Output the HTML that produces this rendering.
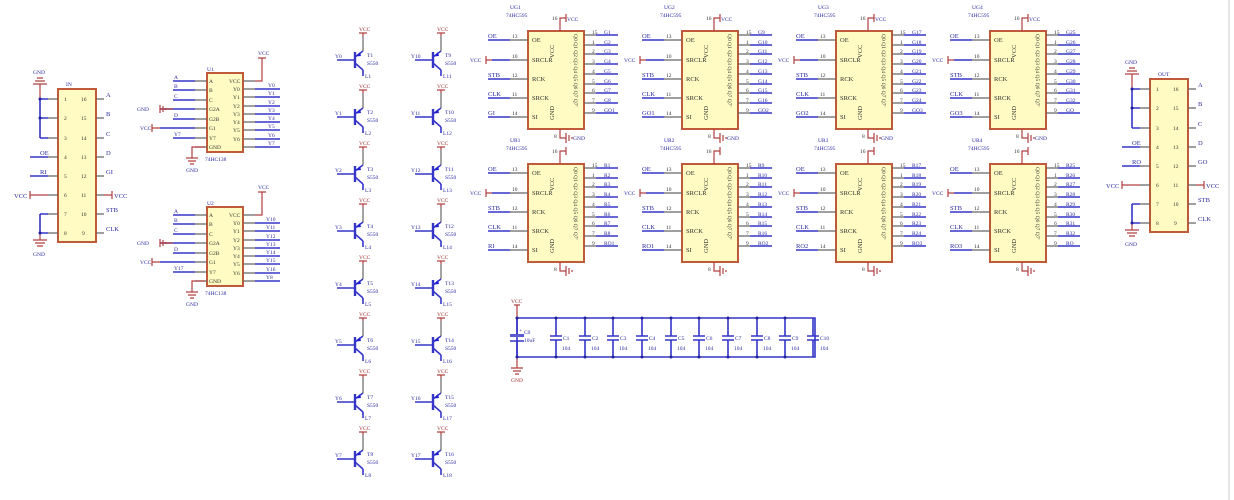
<!DOCTYPE html>
<html><head><meta charset="utf-8"><style>
html,body{margin:0;padding:0;background:#fff;}
svg{display:block;}
text{font-family:"Liberation Serif",serif;font-size:6.5px;fill:#2a2aa0;}
.s{font-size:5.5px;}
.k{fill:#333;}
.r{fill:#a03030;}
.w{stroke:#3535c8;stroke-width:1.6;fill:none;}
.p{stroke:#666;stroke-width:1.2;fill:none;}
.pr{stroke:#b04040;stroke-width:1.2;fill:none;}
.bx{fill:#fffbc2;stroke:#c05a3a;stroke-width:2;}
</style></head><body>
<svg width="1234" height="500" viewBox="0 0 1234 500" xmlns="http://www.w3.org/2000/svg">
<defs>
<g id="chip">
<rect class="bx" x="48" y="31" width="56" height="98"/>
<path class="p" d="M30 40H48M30 60H48M30 79H48M30 98H48M30 117H48"/>
<path class="w" d="M8 40H30M12 60H30M8 79H30M8 98H30M8 117H30"/>
<path class="pr" d="M6 56V64M6 60H12"/>
<path class="p" d="M104 35H116M104 45H116M104 54H116M104 64H116M104 74H116M104 84H116M104 93H116M104 103H116M104 113H116"/>
<path class="w" d="M116 35H138M116 45H138M116 54H138M116 64H138M116 74H138M116 84H138M116 93H138M116 103H138M116 113H138"/>
<path class="pr" d="M80 31V18H86M86 14V22"/>
<path class="pr" d="M80 129V138H86M86 133V143M89 135V141M92 137V139"/>
</g>
<g id="tr">
<path class="w" d="M-18 0H0"/>
<path stroke="#3535c8" stroke-width="2.4" d="M0 -8V8"/>
<path class="w" d="M0 -3L8 -9M0 3L8 10"/>
<path fill="#2020d0" d="M1 -3.5L5 -8L6 -4Z"/>
<path class="p" d="M8 -9V-24"/>
<path class="pr" d="M8 -24V-27M4 -27H12"/>
<path class="w" d="M8 10V16"/>
</g>
<g id="conn">
<rect class="bx" x="58" y="89" width="38" height="153"/>
<path class="p" d="M48 99H58M48 118H58M48 138H58M48 157H58M48 176H58M48 195H58M48 214H58M48 233H58M96 99H104M96 118H104M96 138H104M96 157H104M96 176H104M96 195H104M96 214H104M96 233H104"/>
<path class="w" d="M40 99H48M40 118H48M40 138H48M40 99V138M40 214H48M40 233H48M40 214V233M30 157H48M30 176H48"/>
<path class="pr" d="M30 191V199M30 195H48M104 195H112M112 191V199M40 99V84M33 84H47M35 81H45M37 78H43M40 233V240M33 240H47M35 243H45M37 246H43"/>
<circle cx="40" cy="99" r="1.5" fill="#2020a0"/><circle cx="40" cy="118" r="1.5" fill="#2020a0"/><circle cx="40" cy="233" r="1.5" fill="#2020a0"/>
</g>
<g id="c138">
<rect class="bx" x="207" y="73" width="36" height="79"/>
<path class="p" d="M195 81H207M195 90H207M195 100H207M195 109H207M195 119H207M195 128H207M195 138H207M195 147H207M243 81H255M243 89H255M243 97H255M243 106H255M243 114H255M243 122H255M243 130H255M243 139H255M243 147H255"/>
<path class="w" d="M173 81H195M173 90H195M173 100H195M160 109H195M173 119H195M160 128H195M173 138H195M255 89H280M255 97H280M255 106H280M255 114H280M255 122H280M255 130H280M255 139H280M255 147H280"/>
<path class="pr" d="M255 81H262V58M258 58H266M160 105V113M163 106V112M166 108V110M160 109H173M152 124V132M152 128H160M205 147H192V158M186 158H198M188 161H196M190 164H194"/>
</g>
</defs>

<path stroke="#ccc" stroke-width="1" d="M1229 0V500"/>

<use href="#conn"/>
<text x="66" y="86" class="s">IN</text>
<text x="33" y="74" class="s">GND</text><text x="33" y="256" class="s">GND</text>
<text x="64" y="101" class="k s">1</text><text x="64" y="120" class="k s">2</text><text x="64" y="140" class="k s">3</text><text x="64" y="159" class="k s">4</text><text x="64" y="178" class="k s">5</text><text x="64" y="197" class="k s">6</text><text x="64" y="216" class="k s">7</text><text x="64" y="235" class="k s">8</text>
<text x="81" y="101" class="k s">16</text><text x="81" y="120" class="k s">15</text><text x="81" y="140" class="k s">14</text><text x="81" y="159" class="k s">13</text><text x="81" y="178" class="k s">12</text><text x="81" y="197" class="k s">11</text><text x="81" y="216" class="k s">10</text><text x="82" y="235" class="k s">9</text>
<text x="106" y="97">A</text><text x="106" y="116">B</text><text x="106" y="136">C</text><text x="106" y="155">D</text><text x="106" y="174">GI</text><text x="114" y="198">VCC</text><text x="106" y="212">STB</text><text x="106" y="231">CLK</text>
<text x="40" y="155">OE</text><text x="40" y="174">RI</text><text x="14" y="198">VCC</text>

<g transform="translate(1092,-10)">
<use href="#conn"/>
<text x="66" y="86" class="s">OUT</text>
<text x="33" y="74" class="s">GND</text><text x="33" y="256" class="s">GND</text>
<text x="64" y="101" class="k s">1</text><text x="64" y="120" class="k s">2</text><text x="64" y="140" class="k s">3</text><text x="64" y="159" class="k s">4</text><text x="64" y="178" class="k s">5</text><text x="64" y="197" class="k s">6</text><text x="64" y="216" class="k s">7</text><text x="64" y="235" class="k s">8</text>
<text x="81" y="101" class="k s">16</text><text x="81" y="120" class="k s">15</text><text x="81" y="140" class="k s">14</text><text x="81" y="159" class="k s">13</text><text x="81" y="178" class="k s">12</text><text x="81" y="197" class="k s">11</text><text x="81" y="216" class="k s">10</text><text x="82" y="235" class="k s">9</text>
<text x="106" y="97">A</text><text x="106" y="116">B</text><text x="106" y="136">C</text><text x="106" y="155">D</text><text x="106" y="174">GO</text><text x="114" y="198">VCC</text><text x="106" y="212">STB</text><text x="106" y="231">CLK</text>
<text x="40" y="155">OE</text><text x="40" y="174">RO</text><text x="14" y="198">VCC</text>
</g>

<use href="#c138"/>
<text x="207" y="71" class="s">U1</text><text x="205" y="161" class="s">74HC138</text>
<text x="258" y="55" class="s">VCC</text><text x="186" y="172" class="s">GND</text>
<text x="137" y="111" class="s">GND</text><text x="140" y="130" class="s">VCC</text>
<text x="174" y="79" class="s">A</text><text x="174" y="88" class="s">B</text><text x="174" y="98" class="s">C</text><text x="174" y="117" class="s">D</text><text x="174" y="136" class="s">Y7</text>
<text x="209" y="83" class="k s">A</text><text x="209" y="92" class="k s">B</text><text x="209" y="102" class="k s">C</text><text x="209" y="111" class="k s">G2A</text><text x="209" y="121" class="k s">G2B</text><text x="209" y="130" class="k s">G1</text><text x="209" y="140" class="k s">Y7</text><text x="209" y="149" class="k s">GND</text>
<text x="229" y="83" class="k s">VCC</text><text x="233" y="91" class="k s">Y0</text><text x="233" y="99" class="k s">Y1</text><text x="233" y="108" class="k s">Y2</text><text x="233" y="116" class="k s">Y3</text><text x="233" y="124" class="k s">Y4</text><text x="233" y="132" class="k s">Y5</text><text x="233" y="141" class="k s">Y6</text>
<text x="268" y="87" class="s">Y0</text><text x="268" y="95" class="s">Y1</text><text x="268" y="104" class="s">Y2</text><text x="268" y="112" class="s">Y3</text><text x="268" y="120" class="s">Y4</text><text x="268" y="128" class="s">Y5</text><text x="268" y="137" class="s">Y6</text><text x="268" y="145" class="s">Y7</text>

<g transform="translate(0,134)">
<use href="#c138"/>
<text x="207" y="71" class="s">U2</text><text x="205" y="161" class="s">74HC138</text>
<text x="258" y="55" class="s">VCC</text><text x="186" y="172" class="s">GND</text>
<text x="137" y="111" class="s">GND</text><text x="140" y="130" class="s">VCC</text>
<text x="174" y="79" class="s">A</text><text x="174" y="88" class="s">B</text><text x="174" y="98" class="s">C</text><text x="174" y="117" class="s">D</text><text x="174" y="136" class="s">Y17</text>
<text x="209" y="83" class="k s">A</text><text x="209" y="92" class="k s">B</text><text x="209" y="102" class="k s">C</text><text x="209" y="111" class="k s">G2A</text><text x="209" y="121" class="k s">G2B</text><text x="209" y="130" class="k s">G1</text><text x="209" y="140" class="k s">Y7</text><text x="209" y="149" class="k s">GND</text>
<text x="229" y="83" class="k s">VCC</text><text x="233" y="91" class="k s">Y0</text><text x="233" y="99" class="k s">Y1</text><text x="233" y="108" class="k s">Y2</text><text x="233" y="116" class="k s">Y3</text><text x="233" y="124" class="k s">Y4</text><text x="233" y="132" class="k s">Y5</text><text x="233" y="141" class="k s">Y6</text>
<text x="266" y="87" class="s">Y10</text><text x="266" y="95" class="s">Y11</text><text x="266" y="104" class="s">Y12</text><text x="266" y="112" class="s">Y13</text><text x="266" y="120" class="s">Y14</text><text x="266" y="128" class="s">Y15</text><text x="266" y="137" class="s">Y16</text><text x="266" y="145" class="s">Y8</text>
</g>

<g transform="translate(355,60)"><use href="#tr"/><text x="-20" y="-2" class="s">Y0</text><text x="4" y="-29" class="s r">VCC</text><text x="12" y="-3" class="s">T1</text><text x="12" y="5" class="s">S550</text><text x="10" y="18" class="s">L1</text></g>
<g transform="translate(355,117)"><use href="#tr"/><text x="-20" y="-2" class="s">Y1</text><text x="4" y="-29" class="s r">VCC</text><text x="12" y="-3" class="s">T2</text><text x="12" y="5" class="s">S550</text><text x="10" y="18" class="s">L2</text></g>
<g transform="translate(355,174)"><use href="#tr"/><text x="-20" y="-2" class="s">Y2</text><text x="4" y="-29" class="s r">VCC</text><text x="12" y="-3" class="s">T3</text><text x="12" y="5" class="s">S550</text><text x="10" y="18" class="s">L3</text></g>
<g transform="translate(355,231)"><use href="#tr"/><text x="-20" y="-2" class="s">Y3</text><text x="4" y="-29" class="s r">VCC</text><text x="12" y="-3" class="s">T4</text><text x="12" y="5" class="s">S550</text><text x="10" y="18" class="s">L4</text></g>
<g transform="translate(355,288)"><use href="#tr"/><text x="-20" y="-2" class="s">Y4</text><text x="4" y="-29" class="s r">VCC</text><text x="12" y="-3" class="s">T5</text><text x="12" y="5" class="s">S550</text><text x="10" y="18" class="s">L5</text></g>
<g transform="translate(355,345)"><use href="#tr"/><text x="-20" y="-2" class="s">Y5</text><text x="4" y="-29" class="s r">VCC</text><text x="12" y="-3" class="s">T6</text><text x="12" y="5" class="s">S550</text><text x="10" y="18" class="s">L6</text></g>
<g transform="translate(355,402)"><use href="#tr"/><text x="-20" y="-2" class="s">Y6</text><text x="4" y="-29" class="s r">VCC</text><text x="12" y="-3" class="s">T7</text><text x="12" y="5" class="s">S550</text><text x="10" y="18" class="s">L7</text></g>
<g transform="translate(355,459)"><use href="#tr"/><text x="-20" y="-2" class="s">Y7</text><text x="4" y="-29" class="s r">VCC</text><text x="12" y="-3" class="s">T8</text><text x="12" y="5" class="s">S550</text><text x="10" y="18" class="s">L8</text></g>
<g transform="translate(433,60)"><use href="#tr"/><text x="-22" y="-2" class="s">Y10</text><text x="4" y="-29" class="s r">VCC</text><text x="12" y="-3" class="s">T9</text><text x="12" y="5" class="s">S550</text><text x="10" y="18" class="s">L11</text></g>
<g transform="translate(433,117)"><use href="#tr"/><text x="-22" y="-2" class="s">Y11</text><text x="4" y="-29" class="s r">VCC</text><text x="12" y="-3" class="s">T10</text><text x="12" y="5" class="s">S550</text><text x="10" y="18" class="s">L12</text></g>
<g transform="translate(433,174)"><use href="#tr"/><text x="-22" y="-2" class="s">Y12</text><text x="4" y="-29" class="s r">VCC</text><text x="12" y="-3" class="s">T11</text><text x="12" y="5" class="s">S550</text><text x="10" y="18" class="s">L13</text></g>
<g transform="translate(433,231)"><use href="#tr"/><text x="-22" y="-2" class="s">Y13</text><text x="4" y="-29" class="s r">VCC</text><text x="12" y="-3" class="s">T12</text><text x="12" y="5" class="s">S550</text><text x="10" y="18" class="s">L14</text></g>
<g transform="translate(433,288)"><use href="#tr"/><text x="-22" y="-2" class="s">Y14</text><text x="4" y="-29" class="s r">VCC</text><text x="12" y="-3" class="s">T13</text><text x="12" y="5" class="s">S550</text><text x="10" y="18" class="s">L15</text></g>
<g transform="translate(433,345)"><use href="#tr"/><text x="-22" y="-2" class="s">Y15</text><text x="4" y="-29" class="s r">VCC</text><text x="12" y="-3" class="s">T14</text><text x="12" y="5" class="s">S550</text><text x="10" y="18" class="s">L16</text></g>
<g transform="translate(433,402)"><use href="#tr"/><text x="-22" y="-2" class="s">Y16</text><text x="4" y="-29" class="s r">VCC</text><text x="12" y="-3" class="s">T15</text><text x="12" y="5" class="s">S550</text><text x="10" y="18" class="s">L17</text></g>
<g transform="translate(433,459)"><use href="#tr"/><text x="-22" y="-2" class="s">Y17</text><text x="4" y="-29" class="s r">VCC</text><text x="12" y="-3" class="s">T16</text><text x="12" y="5" class="s">S550</text><text x="10" y="18" class="s">L18</text></g>

<g transform="translate(480,0)"><use href="#chip"/>
<text x="30" y="9" class="s">UG1</text><text x="26" y="17" class="s">74HC595</text>
<text x="8" y="38">OE</text><text x="-10" y="62" class="s">VCC</text><text x="8" y="77">STB</text><text x="8" y="96">CLK</text><text x="8" y="115">GI</text>
<text x="32" y="38" class="k s">13</text><text x="32" y="58" class="k s">10</text><text x="32" y="77" class="k s">12</text><text x="32" y="96" class="k s">11</text><text x="32" y="115" class="k s">14</text>
<text x="52" y="42" class="k">OE</text><text x="52" y="62" class="k">SRCLR</text><text x="52" y="81" class="k">RCK</text><text x="52" y="100" class="k">SRCK</text><text x="52" y="119" class="k">SI</text>
<text class="k" transform="translate(74,58) rotate(-90)">VCC</text><text class="k" transform="translate(74,120) rotate(-90)">GND</text><text class="k s" transform="translate(94,34) rotate(90)">Q0 Q1 Q2 Q3 Q4 Q5 Q6 Q7 Q7'</text>
<text x="72" y="20" class="k s">16</text><text x="87" y="21" class="s">VCC</text><text x="74" y="138" class="k s">8</text><text x="93" y="140" class="s">GND</text>
<text x="112" y="34" class="k s">15</text><text x="112" y="44" class="k s">1</text><text x="112" y="53" class="k s">2</text><text x="112" y="63" class="k s">3</text><text x="112" y="73" class="k s">4</text><text x="112" y="83" class="k s">5</text><text x="112" y="92" class="k s">6</text><text x="112" y="102" class="k s">7</text><text x="112" y="112" class="k s">9</text>
<text x="124" y="34" class="s">G1</text><text x="124" y="44" class="s">G2</text><text x="124" y="53" class="s">G3</text><text x="124" y="63" class="s">G4</text><text x="124" y="73" class="s">G5</text><text x="124" y="83" class="s">G6</text><text x="124" y="92" class="s">G7</text><text x="124" y="102" class="s">G8</text><text x="124" y="112" class="s">GO1</text>
</g>
<g transform="translate(634,0)"><use href="#chip"/>
<text x="30" y="9" class="s">UG2</text><text x="26" y="17" class="s">74HC595</text>
<text x="8" y="38">OE</text><text x="-10" y="62" class="s">VCC</text><text x="8" y="77">STB</text><text x="8" y="96">CLK</text><text x="8" y="115">GO1</text>
<text x="32" y="38" class="k s">13</text><text x="32" y="58" class="k s">10</text><text x="32" y="77" class="k s">12</text><text x="32" y="96" class="k s">11</text><text x="32" y="115" class="k s">14</text>
<text x="52" y="42" class="k">OE</text><text x="52" y="62" class="k">SRCLR</text><text x="52" y="81" class="k">RCK</text><text x="52" y="100" class="k">SRCK</text><text x="52" y="119" class="k">SI</text>
<text class="k" transform="translate(74,58) rotate(-90)">VCC</text><text class="k" transform="translate(74,120) rotate(-90)">GND</text><text class="k s" transform="translate(94,34) rotate(90)">Q0 Q1 Q2 Q3 Q4 Q5 Q6 Q7 Q7'</text>
<text x="72" y="20" class="k s">16</text><text x="87" y="21" class="s">VCC</text><text x="74" y="138" class="k s">8</text><text x="93" y="140" class="s">GND</text>
<text x="112" y="34" class="k s">15</text><text x="112" y="44" class="k s">1</text><text x="112" y="53" class="k s">2</text><text x="112" y="63" class="k s">3</text><text x="112" y="73" class="k s">4</text><text x="112" y="83" class="k s">5</text><text x="112" y="92" class="k s">6</text><text x="112" y="102" class="k s">7</text><text x="112" y="112" class="k s">9</text>
<text x="124" y="34" class="s">G9</text><text x="124" y="44" class="s">G10</text><text x="124" y="53" class="s">G11</text><text x="124" y="63" class="s">G12</text><text x="124" y="73" class="s">G13</text><text x="124" y="83" class="s">G14</text><text x="124" y="92" class="s">G15</text><text x="124" y="102" class="s">G16</text><text x="124" y="112" class="s">GO2</text>
</g>
<g transform="translate(788,0)"><use href="#chip"/>
<text x="30" y="9" class="s">UG3</text><text x="26" y="17" class="s">74HC595</text>
<text x="8" y="38">OE</text><text x="-10" y="62" class="s">VCC</text><text x="8" y="77">STB</text><text x="8" y="96">CLK</text><text x="8" y="115">GO2</text>
<text x="32" y="38" class="k s">13</text><text x="32" y="58" class="k s">10</text><text x="32" y="77" class="k s">12</text><text x="32" y="96" class="k s">11</text><text x="32" y="115" class="k s">14</text>
<text x="52" y="42" class="k">OE</text><text x="52" y="62" class="k">SRCLR</text><text x="52" y="81" class="k">RCK</text><text x="52" y="100" class="k">SRCK</text><text x="52" y="119" class="k">SI</text>
<text class="k" transform="translate(74,58) rotate(-90)">VCC</text><text class="k" transform="translate(74,120) rotate(-90)">GND</text><text class="k s" transform="translate(94,34) rotate(90)">Q0 Q1 Q2 Q3 Q4 Q5 Q6 Q7 Q7'</text>
<text x="72" y="20" class="k s">16</text><text x="87" y="21" class="s">VCC</text><text x="74" y="138" class="k s">8</text><text x="93" y="140" class="s">GND</text>
<text x="112" y="34" class="k s">15</text><text x="112" y="44" class="k s">1</text><text x="112" y="53" class="k s">2</text><text x="112" y="63" class="k s">3</text><text x="112" y="73" class="k s">4</text><text x="112" y="83" class="k s">5</text><text x="112" y="92" class="k s">6</text><text x="112" y="102" class="k s">7</text><text x="112" y="112" class="k s">9</text>
<text x="124" y="34" class="s">G17</text><text x="124" y="44" class="s">G18</text><text x="124" y="53" class="s">G19</text><text x="124" y="63" class="s">G20</text><text x="124" y="73" class="s">G21</text><text x="124" y="83" class="s">G22</text><text x="124" y="92" class="s">G23</text><text x="124" y="102" class="s">G24</text><text x="124" y="112" class="s">GO3</text>
</g>
<g transform="translate(942,0)"><use href="#chip"/>
<text x="30" y="9" class="s">UG4</text><text x="26" y="17" class="s">74HC595</text>
<text x="8" y="38">OE</text><text x="-10" y="62" class="s">VCC</text><text x="8" y="77">STB</text><text x="8" y="96">CLK</text><text x="8" y="115">GO3</text>
<text x="32" y="38" class="k s">13</text><text x="32" y="58" class="k s">10</text><text x="32" y="77" class="k s">12</text><text x="32" y="96" class="k s">11</text><text x="32" y="115" class="k s">14</text>
<text x="52" y="42" class="k">OE</text><text x="52" y="62" class="k">SRCLR</text><text x="52" y="81" class="k">RCK</text><text x="52" y="100" class="k">SRCK</text><text x="52" y="119" class="k">SI</text>
<text class="k" transform="translate(74,58) rotate(-90)">VCC</text><text class="k" transform="translate(74,120) rotate(-90)">GND</text><text class="k s" transform="translate(94,34) rotate(90)">Q0 Q1 Q2 Q3 Q4 Q5 Q6 Q7 Q7'</text>
<text x="72" y="20" class="k s">16</text><text x="87" y="21" class="s">VCC</text><text x="74" y="138" class="k s">8</text><text x="93" y="140" class="s">GND</text>
<text x="112" y="34" class="k s">15</text><text x="112" y="44" class="k s">1</text><text x="112" y="53" class="k s">2</text><text x="112" y="63" class="k s">3</text><text x="112" y="73" class="k s">4</text><text x="112" y="83" class="k s">5</text><text x="112" y="92" class="k s">6</text><text x="112" y="102" class="k s">7</text><text x="112" y="112" class="k s">9</text>
<text x="124" y="34" class="s">G25</text><text x="124" y="44" class="s">G26</text><text x="124" y="53" class="s">G27</text><text x="124" y="63" class="s">G28</text><text x="124" y="73" class="s">G29</text><text x="124" y="83" class="s">G30</text><text x="124" y="92" class="s">G31</text><text x="124" y="102" class="s">G32</text><text x="124" y="112" class="s">GO</text>
</g>

<g transform="translate(480,133)"><use href="#chip"/>
<text x="30" y="9" class="s">UR1</text><text x="26" y="17" class="s">74HC595</text>
<text x="8" y="38">OE</text><text x="-10" y="62" class="s">VCC</text><text x="8" y="77">STB</text><text x="8" y="96">CLK</text><text x="8" y="115">RI</text>
<text x="32" y="38" class="k s">13</text><text x="32" y="58" class="k s">10</text><text x="32" y="77" class="k s">12</text><text x="32" y="96" class="k s">11</text><text x="32" y="115" class="k s">14</text>
<text x="52" y="42" class="k">OE</text><text x="52" y="62" class="k">SRCLR</text><text x="52" y="81" class="k">RCK</text><text x="52" y="100" class="k">SRCK</text><text x="52" y="119" class="k">SI</text>
<text class="k" transform="translate(74,58) rotate(-90)">VCC</text><text class="k" transform="translate(74,120) rotate(-90)">GND</text><text class="k s" transform="translate(94,34) rotate(90)">Q0 Q1 Q2 Q3 Q4 Q5 Q6 Q7 Q7'</text>
<text x="72" y="20" class="k s">16</text><text x="74" y="138" class="k s">8</text>
<text x="112" y="34" class="k s">15</text><text x="112" y="44" class="k s">1</text><text x="112" y="53" class="k s">2</text><text x="112" y="63" class="k s">3</text><text x="112" y="73" class="k s">4</text><text x="112" y="83" class="k s">5</text><text x="112" y="92" class="k s">6</text><text x="112" y="102" class="k s">7</text><text x="112" y="112" class="k s">9</text>
<text x="124" y="34" class="s">R1</text><text x="124" y="44" class="s">R2</text><text x="124" y="53" class="s">R3</text><text x="124" y="63" class="s">R4</text><text x="124" y="73" class="s">R5</text><text x="124" y="83" class="s">R6</text><text x="124" y="92" class="s">R7</text><text x="124" y="102" class="s">R8</text><text x="124" y="112" class="s">RO1</text>
</g>
<g transform="translate(634,133)"><use href="#chip"/>
<text x="30" y="9" class="s">UR2</text><text x="26" y="17" class="s">74HC595</text>
<text x="8" y="38">OE</text><text x="-10" y="62" class="s">VCC</text><text x="8" y="77">STB</text><text x="8" y="96">CLK</text><text x="8" y="115">RO1</text>
<text x="32" y="38" class="k s">13</text><text x="32" y="58" class="k s">10</text><text x="32" y="77" class="k s">12</text><text x="32" y="96" class="k s">11</text><text x="32" y="115" class="k s">14</text>
<text x="52" y="42" class="k">OE</text><text x="52" y="62" class="k">SRCLR</text><text x="52" y="81" class="k">RCK</text><text x="52" y="100" class="k">SRCK</text><text x="52" y="119" class="k">SI</text>
<text class="k" transform="translate(74,58) rotate(-90)">VCC</text><text class="k" transform="translate(74,120) rotate(-90)">GND</text><text class="k s" transform="translate(94,34) rotate(90)">Q0 Q1 Q2 Q3 Q4 Q5 Q6 Q7 Q7'</text>
<text x="72" y="20" class="k s">16</text><text x="74" y="138" class="k s">8</text>
<text x="112" y="34" class="k s">15</text><text x="112" y="44" class="k s">1</text><text x="112" y="53" class="k s">2</text><text x="112" y="63" class="k s">3</text><text x="112" y="73" class="k s">4</text><text x="112" y="83" class="k s">5</text><text x="112" y="92" class="k s">6</text><text x="112" y="102" class="k s">7</text><text x="112" y="112" class="k s">9</text>
<text x="124" y="34" class="s">R9</text><text x="124" y="44" class="s">R10</text><text x="124" y="53" class="s">R11</text><text x="124" y="63" class="s">R12</text><text x="124" y="73" class="s">R13</text><text x="124" y="83" class="s">R14</text><text x="124" y="92" class="s">R15</text><text x="124" y="102" class="s">R16</text><text x="124" y="112" class="s">RO2</text>
</g>
<g transform="translate(788,133)"><use href="#chip"/>
<text x="30" y="9" class="s">UR3</text><text x="26" y="17" class="s">74HC595</text>
<text x="8" y="38">OE</text><text x="-10" y="62" class="s">VCC</text><text x="8" y="77">STB</text><text x="8" y="96">CLK</text><text x="8" y="115">RO2</text>
<text x="32" y="38" class="k s">13</text><text x="32" y="58" class="k s">10</text><text x="32" y="77" class="k s">12</text><text x="32" y="96" class="k s">11</text><text x="32" y="115" class="k s">14</text>
<text x="52" y="42" class="k">OE</text><text x="52" y="62" class="k">SRCLR</text><text x="52" y="81" class="k">RCK</text><text x="52" y="100" class="k">SRCK</text><text x="52" y="119" class="k">SI</text>
<text class="k" transform="translate(74,58) rotate(-90)">VCC</text><text class="k" transform="translate(74,120) rotate(-90)">GND</text><text class="k s" transform="translate(94,34) rotate(90)">Q0 Q1 Q2 Q3 Q4 Q5 Q6 Q7 Q7'</text>
<text x="72" y="20" class="k s">16</text><text x="74" y="138" class="k s">8</text>
<text x="112" y="34" class="k s">15</text><text x="112" y="44" class="k s">1</text><text x="112" y="53" class="k s">2</text><text x="112" y="63" class="k s">3</text><text x="112" y="73" class="k s">4</text><text x="112" y="83" class="k s">5</text><text x="112" y="92" class="k s">6</text><text x="112" y="102" class="k s">7</text><text x="112" y="112" class="k s">9</text>
<text x="124" y="34" class="s">R17</text><text x="124" y="44" class="s">R18</text><text x="124" y="53" class="s">R19</text><text x="124" y="63" class="s">R20</text><text x="124" y="73" class="s">R21</text><text x="124" y="83" class="s">R22</text><text x="124" y="92" class="s">R23</text><text x="124" y="102" class="s">R24</text><text x="124" y="112" class="s">RO3</text>
</g>
<g transform="translate(942,133)"><use href="#chip"/>
<text x="30" y="9" class="s">UR4</text><text x="26" y="17" class="s">74HC595</text>
<text x="8" y="38">OE</text><text x="-10" y="62" class="s">VCC</text><text x="8" y="77">STB</text><text x="8" y="96">CLK</text><text x="8" y="115">RO3</text>
<text x="32" y="38" class="k s">13</text><text x="32" y="58" class="k s">10</text><text x="32" y="77" class="k s">12</text><text x="32" y="96" class="k s">11</text><text x="32" y="115" class="k s">14</text>
<text x="52" y="42" class="k">OE</text><text x="52" y="62" class="k">SRCLR</text><text x="52" y="81" class="k">RCK</text><text x="52" y="100" class="k">SRCK</text><text x="52" y="119" class="k">SI</text>
<text class="k" transform="translate(74,58) rotate(-90)">VCC</text><text class="k" transform="translate(74,120) rotate(-90)">GND</text><text class="k s" transform="translate(94,34) rotate(90)">Q0 Q1 Q2 Q3 Q4 Q5 Q6 Q7 Q7'</text>
<text x="72" y="20" class="k s">16</text><text x="74" y="138" class="k s">8</text>
<text x="112" y="34" class="k s">15</text><text x="112" y="44" class="k s">1</text><text x="112" y="53" class="k s">2</text><text x="112" y="63" class="k s">3</text><text x="112" y="73" class="k s">4</text><text x="112" y="83" class="k s">5</text><text x="112" y="92" class="k s">6</text><text x="112" y="102" class="k s">7</text><text x="112" y="112" class="k s">9</text>
<text x="124" y="34" class="s">R25</text><text x="124" y="44" class="s">R26</text><text x="124" y="53" class="s">R27</text><text x="124" y="63" class="s">R28</text><text x="124" y="73" class="s">R29</text><text x="124" y="83" class="s">R30</text><text x="124" y="92" class="s">R31</text><text x="124" y="102" class="s">R32</text><text x="124" y="112" class="s">RO</text>
</g>

<path class="pr" d="M514 305H520M517 305V318M517 357V368M511 368H523M513 371H521M515 374H519"/>
<text x="511" y="303" class="s r">VCC</text><text x="511" y="382" class="s r">GND</text>
<path class="w" d="M517 318H815V357H517Z"/>
<path class="w" d="M517 318V335M517 341V357M510 335H524M510 341H524"/>
<rect x="510" y="334" width="14" height="3" fill="#5a5ad0"/>
<text x="524" y="334" class="s">C0</text><text x="524" y="342" class="s">10uF</text><text x="519" y="332" class="s">+</text>
<g class="w">
<path d="M556 318V336M556 340V357M550 336H562M550 340H562"/>
<path d="M585 318V336M585 340V357M579 336H591M579 340H591"/>
<path d="M613 318V336M613 340V357M607 336H619M607 340H619"/>
<path d="M642 318V336M642 340V357M636 336H648M636 340H648"/>
<path d="M671 318V336M671 340V357M665 336H677M665 340H677"/>
<path d="M699 318V336M699 340V357M693 336H705M693 340H705"/>
<path d="M728 318V336M728 340V357M722 336H734M722 340H734"/>
<path d="M757 318V336M757 340V357M751 336H763M751 340H763"/>
<path d="M785 318V336M785 340V357M779 336H791M779 340H791"/>
<path d="M813 318V336M813 340V357M807 336H819M807 340H819"/>
</g>
<g fill="#2020a0">
<circle cx="517" cy="318" r="1.5"/><circle cx="556" cy="318" r="1.5"/><circle cx="585" cy="318" r="1.5"/><circle cx="613" cy="318" r="1.5"/><circle cx="642" cy="318" r="1.5"/><circle cx="671" cy="318" r="1.5"/><circle cx="699" cy="318" r="1.5"/><circle cx="728" cy="318" r="1.5"/><circle cx="757" cy="318" r="1.5"/><circle cx="785" cy="318" r="1.5"/>
<circle cx="517" cy="357" r="1.5"/><circle cx="556" cy="357" r="1.5"/><circle cx="585" cy="357" r="1.5"/><circle cx="613" cy="357" r="1.5"/><circle cx="642" cy="357" r="1.5"/><circle cx="671" cy="357" r="1.5"/><circle cx="699" cy="357" r="1.5"/><circle cx="728" cy="357" r="1.5"/><circle cx="757" cy="357" r="1.5"/><circle cx="785" cy="357" r="1.5"/>
</g>
<text x="563" y="340" class="s">C1</text><text x="562" y="350" class="s">104</text>
<text x="592" y="340" class="s">C2</text><text x="591" y="350" class="s">104</text>
<text x="620" y="340" class="s">C3</text><text x="619" y="350" class="s">104</text>
<text x="649" y="340" class="s">C4</text><text x="648" y="350" class="s">104</text>
<text x="678" y="340" class="s">C5</text><text x="677" y="350" class="s">104</text>
<text x="706" y="340" class="s">C6</text><text x="705" y="350" class="s">104</text>
<text x="735" y="340" class="s">C7</text><text x="734" y="350" class="s">104</text>
<text x="764" y="340" class="s">C8</text><text x="763" y="350" class="s">104</text>
<text x="792" y="340" class="s">C9</text><text x="791" y="350" class="s">104</text>
<text x="820" y="340" class="s">C10</text><text x="820" y="350" class="s">104</text>
</svg>
</body></html>
